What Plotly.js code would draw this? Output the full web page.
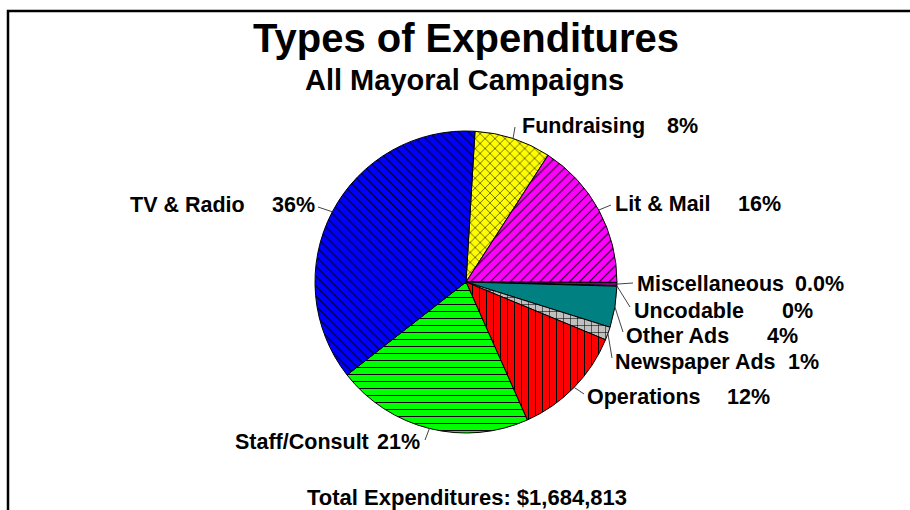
<!DOCTYPE html>
<html>
<head>
<meta charset="utf-8">
<script src="https://cdn.plot.ly/plotly-3.0.1.min.js"></script>
<style>html,body{margin:0;padding:0;background:#fff;}#chart{width:910px;height:510px;}</style>
</head>
<body>
<div id="chart"></div>
<script>
// ---- data ----
const categories = ['Fundraising','Lit & Mail','Miscellaneous','Uncodable','Other Ads','Newspaper Ads','Operations','Staff/Consult','TV & Radio'];
const shares = [8.2, 15.9, 0.35, 0.05, 4.4, 1.4, 12.1, 21.1, 36.5];
const pctLabels = ['8%','16%','0.0%','0%','4%','1%','12%','21%','36%'];
const sliceColors = ['#FFFF00','#FF00FF','#800080','#800080','#008080','#C0C0C0','#FF0000','#00FF00','#0000FF'];
const slicePatterns = ['x','/','','','','+','|','-','\\'];
const totalText = 'Total Expenditures: $1,684,813';

// ---- layout (pixels) ----
const W = 910, H = 510;
const cx = 466, cy = 282, R = 151;
const startAngle = 3.4;
const nameX   = [520, 613, 635, 632, 624, 613, 585, 233, 128];
const pctX    = [700, 783, 846, 815, 800, 821, 772, 422, 317];
const labelY  = [126, 204, 284, 311, 336, 362, 397, 442, 205];
const lineEnd = [[515,127],[611,205],[633,283],[630,307],[623,332],[612,358],[584,394],[425,440],[318,207]];

const px = x => x / W;
const py = y => 1 - y / H;
const FONT = 'Liberation Sans, Arial, sans-serif';

const total = shares.reduce((a,b)=>a+b,0);
const shapes = [];
const annotations = [];
let cum = 0;
shares.forEach((v,i) => {
  const mid = (startAngle + (cum + v/2) / total * 360) * Math.PI / 180;
  cum += v;
  const tx = cx + R * Math.sin(mid), ty = cy - R * Math.cos(mid);
  shapes.push({type:'line', xref:'paper', yref:'paper', x0:px(tx), y0:py(ty), x1:px(lineEnd[i][0]), y1:py(lineEnd[i][1]), line:{color:'#444', width:1}});
  annotations.push({xref:'paper', yref:'paper', x:px(nameX[i]), y:py(labelY[i]), xanchor:'left', yanchor:'middle', text:categories[i], showarrow:false, font:{family:FONT, size:21.5, color:'#000', weight:'bold'}});
  annotations.push({xref:'paper', yref:'paper', x:px(pctX[i]), y:py(labelY[i]), xanchor:'right', yanchor:'middle', text:pctLabels[i], showarrow:false, font:{family:FONT, size:21.5, color:'#000', weight:'bold'}});
});
annotations.push({xref:'paper', yref:'paper', x:px(465), y:py(80), xanchor:'center', yanchor:'middle', text:'All Mayoral Campaigns', showarrow:false, font:{family:FONT, size:29, color:'#000', weight:'bold'}});
annotations.push({xref:'paper', yref:'paper', x:px(467), y:py(497), xanchor:'center', yanchor:'middle', text:totalText, showarrow:false, font:{family:FONT, size:22, color:'#000', weight:'bold'}});

// frame
shapes.push({type:'rect', xref:'paper', yref:'paper', x0:px(8), y0:py(11), x1:px(930), y1:py(530), line:{color:'#000', width:2.5}});

const trace = {
  type:'pie',
  labels: categories,
  values: shares,
  sort:false,
  direction:'clockwise',
  rotation:startAngle,
  textinfo:'none',
  hoverinfo:'none',
  showlegend:false,
  domain:{x:[px(cx-R), px(cx+R)], y:[py(cy+R), py(cy-R)]},
  marker:{
    colors: sliceColors,
    line:{color:'#000', width:1},
    pattern:{shape: slicePatterns, fgcolor:'#000', bgcolor: sliceColors, size:7, solidity:0.15}
  }
};

const layout = {
  width:W, height:H,
  margin:{l:0,r:0,t:0,b:0},
  paper_bgcolor:'#fff',
  title:{text:'Types of Expenditures', x:px(466), xanchor:'center', y:py(38), yanchor:'middle', font:{family:FONT, size:40, color:'#000', weight:'bold'}},
  shapes: shapes,
  annotations: annotations
};

Plotly.newPlot('chart', [trace], layout, {displayModeBar:false, staticPlot:true});
</script>
</body>
</html>
